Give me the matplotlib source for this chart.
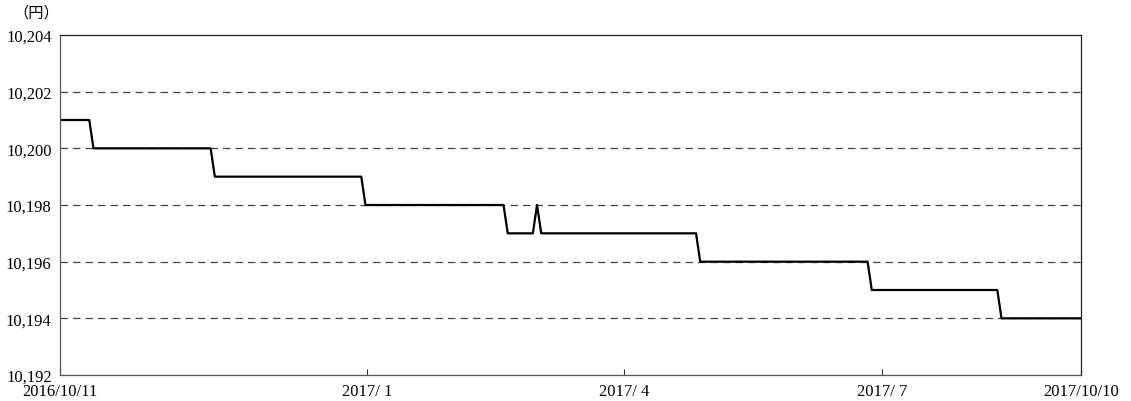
import numpy as np
import matplotlib.pyplot as plt

# step levels (yen) and how many daily points each level lasts
levels = [10201, 10200, 10199, 10198, 10197, 10198, 10197, 10196, 10195, 10194]
run_lengths = [8, 29, 36, 34, 7, 1, 38, 41, 31, 20]

# x tick positions (point index) and labels
tick_pos = [0, 73.4, 134.8, 196.5, 244]
tick_labels = ["2016/10/11", "2017/ 1", "2017/ 4", "2017/ 7", "2017/10/10"]

y_ticks = [10192, 10194, 10196, 10198, 10200, 10202, 10204]

plt.rcParams["font.family"] = ["Liberation Serif", "Noto Sans CJK JP"]

values = np.repeat(levels, run_lengths)
x = np.arange(len(values))

fig = plt.figure(figsize=(11.31, 4.02), dpi=100)
ax = fig.add_axes([60 / 1131, 1 - 376 / 402, 1021 / 1131, 340 / 402])

ax.plot(x, values, color="black", linewidth=1.6)

ax.set_xlim(0, len(values) - 1)
ax.set_ylim(10192, 10204)

ax.set_yticks(y_ticks)
ax.set_yticklabels([f"{v:,}" for v in y_ticks], fontsize=12)
ax.tick_params(axis="y", length=0, pad=6)

ax.set_xticks(tick_pos)
ax.set_xticklabels(tick_labels, fontsize=12)
ax.tick_params(axis="x", direction="in", length=4, width=0.8, pad=6, color="#333333")

for v in y_ticks[1:-1]:
    ax.axhline(v, color="#444444", linewidth=0.9, linestyle=(0, (6, 4)), zorder=0)

for side in ["left", "bottom"]:
    ax.spines[side].set_color("#555555")
for side in ["top", "right"]:
    ax.spines[side].set_color("#222222")
for s in ax.spines.values():
    s.set_linewidth(0.9)

fig.text(36 / 1131, 1 - 13 / 402, "（円）", fontsize=11, ha="center", va="center")

fig.savefig("out.png", dpi=100)
